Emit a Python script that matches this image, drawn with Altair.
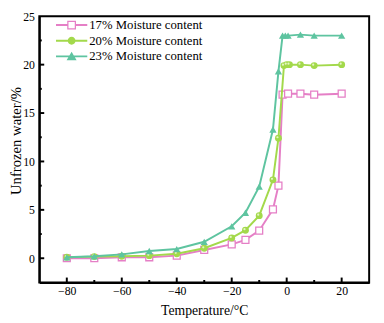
import altair as alt
import pandas as pd

series = ["17% Moisture content", "20% Moisture content", "23% Moisture content"]
colors = ["#E57FC6", "#A3D94B", "#5EC4A0"]

t17 = [-80, -70, -60, -50, -40, -30, -20, -15, -10, -5, -3, -1.5, 0.5, 5, 10, 20]
w17 = [0.0, 0.0, 0.1, 0.1, 0.27, 0.86, 1.43, 1.9, 2.85, 5.05, 7.5, 16.9, 17.0, 17.0, 16.9, 17.0]

t20 = [-80, -70, -60, -50, -40, -30, -20, -15, -10, -5, -3, -1, 0, 1, 5, 10, 20]
w20 = [0.1, 0.17, 0.2, 0.27, 0.46, 1.03, 2.1, 2.9, 4.4, 8.1, 12.4, 19.9, 20.0, 20.0, 20.0, 19.9, 20.0]

t23 = [-80, -70, -60, -50, -40, -30, -20, -15, -10, -5, -3, -1.5, -0.5, 0.5, 5, 10, 20]
w23 = [0.1, 0.2, 0.4, 0.75, 0.95, 1.7, 3.3, 4.7, 7.4, 13.3, 19.3, 23.0, 23.0, 23.0, 23.1, 23.0, 23.0]

x_labels = [-80, -60, -40, -20, 0, 20]
x_major = [-80, -60, -40, -20, 0, 20]
x_minor = [-70, -50, -30, -10, 10]
y_labels = [0, 5, 10, 15, 20, 25]
y_major = [0, 5, 10, 15, 20]
y_minor = [2.5, 7.5, 12.5, 17.5, 22.5]

FONT = "Liberation Serif"
W, H = 337, 272

frames = []
for s, t, w in zip(series, [t17, t20, t23], [w17, w20, w23]):
    frames.append(pd.DataFrame({"series": s, "temp": t, "water": w}))
df = pd.concat(frames, ignore_index=True)

xs = alt.Scale(domain=[-90, 30], nice=False, zero=False)
ys = alt.Scale(domain=[-2.5, 25], nice=False, zero=False)

xax = alt.Axis(values=x_labels, grid=False, ticks=False, labelPadding=3,
               title="Temperature/°C", titleFontSize=14, titleFontWeight="normal",
               titleX=W / 2, titleY=33, titleBaseline="alphabetic")
yax = alt.Axis(values=y_labels, grid=False, ticks=False, labelPadding=5,
               title="Unfrozen water/%", titleFontSize=15, titleFontWeight="normal",
               titleX=-24, titleY=127, titleAngle=270, titleAlign="center",
               titleBaseline="middle")

base = alt.Chart(df)
layers = []

layers.append(base.mark_point(opacity=0).encode(
    x=alt.X("temp:Q", scale=xs, axis=xax),
    y=alt.Y("water:Q", scale=ys, axis=yax)))

for i, s in enumerate(series):
    sub = base.transform_filter(alt.datum.series == s)
    layers.append(sub.mark_line(color=colors[i], strokeWidth=2).encode(
        x=alt.X("temp:Q", scale=xs), y=alt.Y("water:Q", scale=ys)))
    if i == 0:
        pt = sub.mark_point(shape="square", size=50, filled=False, fill="white",
                            fillOpacity=1, stroke=colors[i], strokeWidth=1.3, opacity=1)
    elif i == 1:
        pt = sub.mark_point(shape="circle", size=50, filled=True, color=colors[i], opacity=1)
    else:
        pt = sub.mark_point(shape="triangle-up", size=55, filled=True, color=colors[i], opacity=1)
    layers.append(pt.encode(x=alt.X("temp:Q", scale=xs), y=alt.Y("water:Q", scale=ys)))
    if i == 1:
        layers.append(sub.mark_point(shape="circle", size=5, filled=True, color="#E4F5C4",
                                     opacity=1, xOffset=-1, yOffset=-1).encode(
            x=alt.X("temp:Q", scale=xs), y=alt.Y("water:Q", scale=ys)))

# inward ticks
ty_major = pd.DataFrame({"water": y_major})
ty_minor = pd.DataFrame({"water": y_minor})
tx_major = pd.DataFrame({"temp": x_major})
tx_minor = pd.DataFrame({"temp": x_minor})
layers.append(alt.Chart(ty_major).mark_rule(color="black", strokeWidth=2).encode(
    y=alt.Y("water:Q", scale=ys), x=alt.value(0), x2=alt.value(5)))
layers.append(alt.Chart(ty_minor).mark_rule(color="black", strokeWidth=2).encode(
    y=alt.Y("water:Q", scale=ys), x=alt.value(0), x2=alt.value(2.5)))
layers.append(alt.Chart(tx_major).mark_rule(color="black", strokeWidth=2).encode(
    x=alt.X("temp:Q", scale=xs), y=alt.value(H), y2=alt.value(H - 5)))
layers.append(alt.Chart(tx_minor).mark_rule(color="black", strokeWidth=2).encode(
    x=alt.X("temp:Q", scale=xs), y=alt.value(H), y2=alt.value(H - 2.5)))

# legend-only layer (symbols: line + marker)
sq = ("M-1,-0.0625H-0.28V0.0625H-1Z M0.28,-0.0625H1V0.0625H0.28Z "
      "M-0.28,-0.28H0.28V0.28H-0.28Z M-0.2,-0.2V0.2H0.2V-0.2Z")
ci = ("M-1,-0.0625H1V0.0625H-1Z "
      "M0.25,0A0.25,0.25,0,1,1,-0.25,0A0.25,0.25,0,1,1,0.25,0Z")
tr = "M-1,-0.0625H1V0.0625H-1Z M0,-0.3L0.32,0.24L-0.32,0.24Z"
leg = alt.Legend(orient="none", legendX=17, legendY=1, title=None, symbolSize=1024,
                 clipHeight=16, labelFont=FONT, labelFontSize=13, labelOffset=2,
                 labelColor="black", padding=0, rowPadding=0, symbolStrokeWidth=0,
                 symbolOpacity=1)
layers.append(base.transform_filter("false").mark_point(filled=True, opacity=1).encode(
    x=alt.X("temp:Q", scale=xs), y=alt.Y("water:Q", scale=ys),
    color=alt.Color("series:N", scale=alt.Scale(domain=series, range=colors), legend=leg),
    shape=alt.Shape("series:N", scale=alt.Scale(domain=series, range=[sq, ci, tr]), legend=leg)))

chart = alt.layer(*layers).properties(
    width=W, height=H,
    autosize=alt.AutoSizeParams(type="none"),
    padding={"left": 32, "top": 5, "right": 7, "bottom": 38},
).configure_view(stroke="black", strokeWidth=2).configure_axis(
    domainColor="black", domainWidth=2, labelFont=FONT, titleFont=FONT,
    labelFontSize=12, labelColor="black", titleColor="black"
).configure_legend(labelFont=FONT)

chart.save("out.html", embed_options={"renderer": "svg", "actions": False})
